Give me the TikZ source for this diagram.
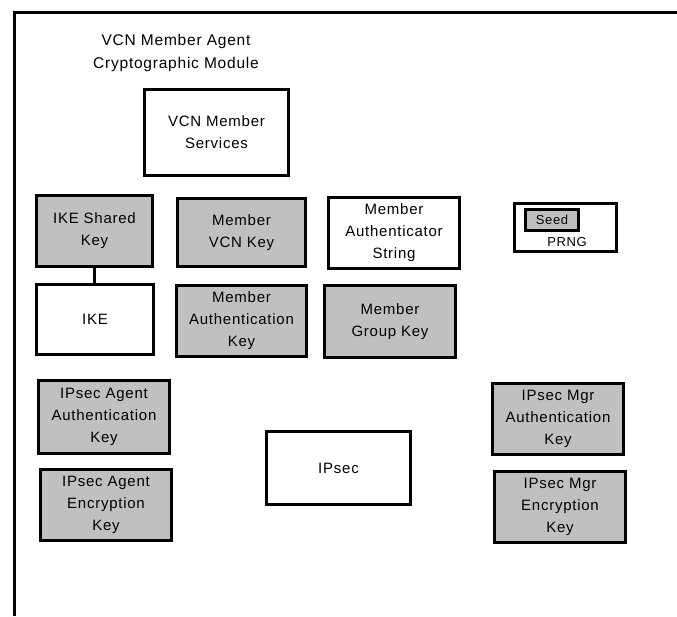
\documentclass[tikz,border=0pt]{standalone}
\usepackage{fontspec}
\setmainfont{Liberation Sans}[LetterSpace=5]
\usepackage{tikz}
\definecolor{keygray}{HTML}{C0C0C0}
\tikzset{
  plainbox/.style = {shape=rectangle, draw, line width=3pt,
                     align=center, inner sep=0pt, outer sep=0pt,
                     fill=white, font=\fontsize{15}{22}\selectfont},
  keybox/.style   = {plainbox, fill=keygray},
  title/.style    = {align=center, font=\fontsize{15.5}{23}\selectfont},
  small/.style    = {font=\fontsize{13}{15}\selectfont}
}

\begin{document}
\begin{tikzpicture}
  [
    x = 1pt,
    y = -1pt,
    line join = miter
  ]
  \useasboundingbox (0,0) rectangle (677,616);
  \draw [line width=3pt] (14,616) -- (14,12) -- (677,12);
  \node [title] (module) at (176,53) {VCN Member Agent\\Cryptographic Module};
  \node [plainbox, minimum width=144, minimum height=86] (services) at (216.5,132.5) {VCN Member\\Services};
  \node [keybox, minimum width=116, minimum height=71] (ikeshared) at (94.5,231) {IKE Shared\\Key};
  \node [keybox, minimum width=128, minimum height=68] (vcnkey) at (241.5,232.5) {Member\\VCN Key};
  \node [plainbox, minimum width=131, minimum height=71] (authstring) at (394,233) {Member\\Authenticator\\String};
  \node [plainbox, minimum width=102, minimum height=48] (prng) at (565.5,227.5) {};
  \node [keybox, small, minimum width=53, minimum height=21] (seed) at (552,220) {Seed};
  \node [small] (prnglabel) at (567,242) {PRNG};
  \node [plainbox, minimum width=117, minimum height=70] (ike) at (95,319.5) {IKE};
  \node [keybox, minimum width=130, minimum height=71] (authkey) at (241.5,321) {Member\\Authentication\\Key};
  \node [keybox, minimum width=131, minimum height=72] (groupkey) at (390,321.5) {Member\\Group Key};
  \node [keybox, minimum width=131, minimum height=73] (agentauth) at (104,417) {IPsec Agent\\Authentication\\Key};
  \node [keybox, minimum width=131, minimum height=71] (agentenc) at (106,505) {IPsec Agent\\Encryption\\Key};
  \node [plainbox, minimum width=144, minimum height=73] (ipsec) at (338.5,468) {IPsec};
  \node [keybox, minimum width=131, minimum height=71] (mgrauth) at (558,419) {IPsec Mgr\\Authentication\\Key};
  \node [keybox, minimum width=131, minimum height=71] (mgrenc) at (560,507) {IPsec Mgr\\Encryption\\Key};
  \draw [line width=3pt] (ikeshared.south) -- (ikeshared.south |- ike.north);
\end{tikzpicture}
\end{document}
